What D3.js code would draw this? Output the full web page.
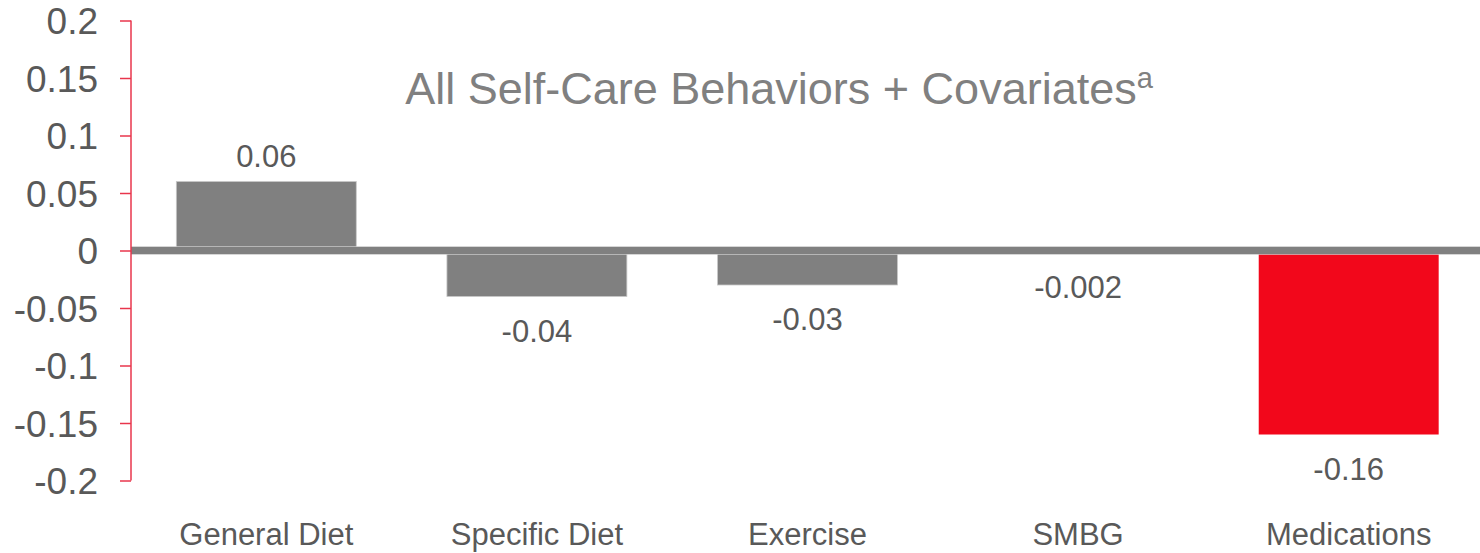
<!DOCTYPE html>
<html>
<head>
<meta charset="utf-8">
<script src="https://cdn.jsdelivr.net/npm/d3@7"></script>
<style>
  html, body { margin: 0; padding: 0; background: #ffffff; }
  svg { display: block; font-family: "Liberation Sans", Arial, sans-serif; }
</style>
</head>
<body>
<svg id="chart" width="1480" height="553"></svg>
<script>
const categories = ["General Diet", "Specific Diet", "Exercise", "SMBG", "Medications"];
const values = [0.06, -0.04, -0.03, -0.002, -0.16];
const valueLabels = ["0.06", "-0.04", "-0.03", "-0.002", "-0.16"];
const highlight = ["Medications"];
const yTicks = [0.2, 0.15, 0.1, 0.05, 0, -0.05, -0.1, -0.15, -0.2];
const yTickLabels = ["0.2", "0.15", "0.1", "0.05", "0", "-0.05", "-0.1", "-0.15", "-0.2"];
const titleMain = "All Self-Care Behaviors + Covariates";
const titleSup = "a";

const svg = d3.select("#chart");
const W = 1480, H = 553;
const axisX = 131;

const x = d3.scaleBand().domain(categories).range([axisX, 1484])
  .paddingInner(0.335).paddingOuter(0.1675);
const y = d3.scaleLinear().domain([-0.2, 0.2]).range([480.5, 20.5]);

// bars
svg.append("g").selectAll("rect").data(categories).join("rect")
  .attr("x", d => x(d))
  .attr("width", x.bandwidth())
  .attr("y", (d, i) => y(Math.max(0, values[i])))
  .attr("height", (d, i) => Math.abs(y(values[i]) - y(0)))
  .attr("fill", d => highlight.includes(d) ? "#f2071b" : "#808080")
  .attr("stroke", d => highlight.includes(d) ? "none" : "#c8c8c8")
  .attr("stroke-width", 0.8);

// zero line
svg.append("line")
  .attr("x1", axisX).attr("x2", W)
  .attr("y1", y(0)).attr("y2", y(0))
  .attr("stroke", "#c8c8c8").attr("stroke-width", 8.5);
svg.append("line")
  .attr("x1", axisX).attr("x2", W)
  .attr("y1", y(0)).attr("y2", y(0))
  .attr("stroke", "#808080").attr("stroke-width", 7);

// y axis
const yAxis = d3.axisLeft(y).tickValues(yTicks)
  .tickFormat((d, i) => yTickLabels[i]).tickSize(11).tickPadding(22);
const ga = svg.append("g").attr("transform", `translate(${axisX},0)`).call(yAxis);
ga.select(".domain").attr("stroke", "#e8364c").attr("stroke-width", 1.5)
  .attr("d", `M0,${y(0.2)}V${y(-0.2)}`);
ga.selectAll(".tick line").attr("stroke", "#e8364c").attr("stroke-width", 1.5);
ga.selectAll(".tick text").attr("fill", "#595959").style("font-size", "37px")
  .attr("font-family", "'Liberation Sans', Arial, sans-serif")
  .attr("dy", "0.36em");

// value labels
svg.append("g").selectAll("text").data(categories).join("text")
  .attr("x", d => x(d) + x.bandwidth() / 2)
  .attr("y", (d, i) => values[i] >= 0 ? y(values[i]) - 15 : y(values[i]) + 45)
  .attr("text-anchor", "middle")
  .attr("fill", "#595959")
  .style("font-size", "31px")
  .text((d, i) => valueLabels[i]);

// category labels
svg.append("g").selectAll("text").data(categories).join("text")
  .attr("x", d => x(d) + x.bandwidth() / 2)
  .attr("y", 545)
  .attr("text-anchor", "middle")
  .attr("fill", "#595959")
  .style("font-size", "31px")
  .text(d => d);

// title
const t = svg.append("text")
  .attr("x", 779).attr("y", 104)
  .attr("text-anchor", "middle")
  .attr("fill", "#808080")
  .style("font-size", "45px");
t.append("tspan").text(titleMain);
t.append("tspan").attr("dy", -16).style("font-size", "29px").text(titleSup);
</script>
</body>
</html>
